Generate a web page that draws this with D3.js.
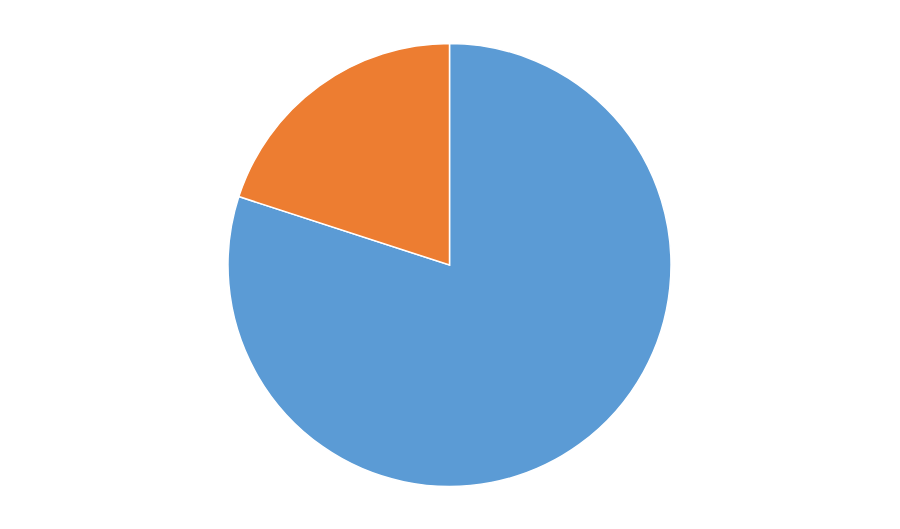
<!DOCTYPE html>
<html>
<head>
<meta charset="utf-8">
<script src="https://cdn.jsdelivr.net/npm/d3@7/dist/d3.min.js"></script>
<style>
  html, body { margin: 0; padding: 0; background: #ffffff; }
  svg { display: block; }
</style>
</head>
<body>
<svg id="chart" width="900" height="529"></svg>
<script>
const categories = ["A", "B"];
const values = [80, 20];
const colors = ["#5B9BD5", "#ED7D31"];

const width = 900, height = 529;
const cx = 449.5, cy = 265, radius = 221.5;

const svg = d3.select("#chart");
const g = svg.append("g").attr("transform", `translate(${cx},${cy})`);

const data = categories.map((c, i) => ({ category: c, value: values[i] }));
const color = d3.scaleOrdinal().domain(categories).range(colors);

const pie = d3.pie().value(d => d.value).sort(null);
const arc = d3.arc().innerRadius(0).outerRadius(radius);

g.selectAll("path")
  .data(pie(data))
  .join("path")
  .attr("d", arc)
  .attr("fill", d => color(d.data.category))
  .attr("stroke", "#ffffff")
  .attr("stroke-width", 1.5);
</script>
</body>
</html>
